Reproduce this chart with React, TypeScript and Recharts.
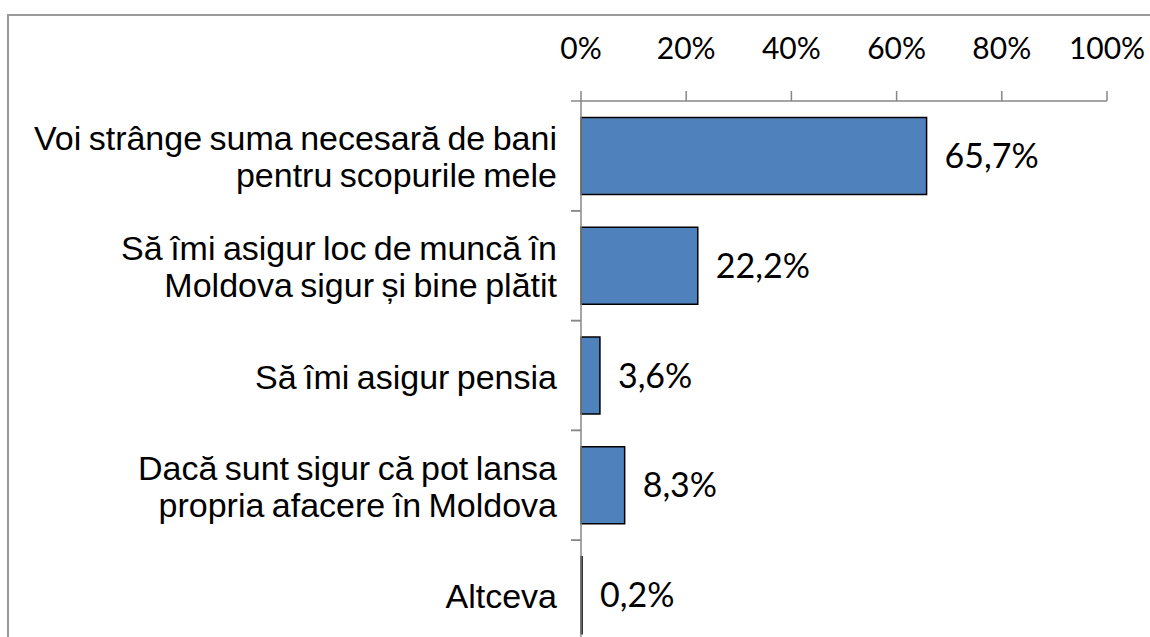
import React from 'react';
import { Bar, BarChart, LabelList, XAxis, YAxis } from 'recharts';

const categories = [
  'Voi strânge suma necesară de bani\npentru scopurile mele',
  'Să îmi asigur loc de muncă în\nMoldova sigur și bine plătit',
  'Să îmi asigur pensia',
  'Dacă sunt sigur că pot lansa\npropria afacere în Moldova',
  'Altceva',
];
const shares = [65.7, 22.2, 3.6, 8.3, 0.2];
const percentTicks = [0, 20, 40, 60, 80, 100];

const data = categories.map((name, i) => ({ name, value: shares[i] }));

const AXIS_GREY = '#878787';
const LABEL_FONT = '"Liberation Sans", Arial, sans-serif';
const NUM_FONT = 'Lato, "Open Sans", sans-serif';

const fmtValue = (v: number) => `${v.toFixed(1).replace('.', ',')}%`;

function PercentTick({ x, y, payload }: any) {
  return (
    <text x={x} y={y} textAnchor="middle" fontFamily={NUM_FONT} fontSize={30} fill="#000">
      {`${payload.value}%`}
    </text>
  );
}

function CategoryTick({ x, y, payload, height }: any) {
  const half = payload.offset ?? height / (2 * categories.length);
  const lines = String(payload.value).split('\n');
  const lh = 37;
  const first = y - ((lines.length - 1) * lh) / 2 + 13;
  return (
    <g>
      <line x1={x - 10} x2={x} y1={y - half} y2={y - half} stroke={AXIS_GREY} strokeWidth={1.5} />
      <line x1={x - 10} x2={x} y1={y + half} y2={y + half} stroke={AXIS_GREY} strokeWidth={1.5} />
      <text textAnchor="end" fontFamily={LABEL_FONT} fontSize={34} fill="#000" wordSpacing={-2}>
        {lines.map((line, i) => (
          <tspan key={i} x={x - 24} y={first + i * lh}>
            {line}
          </tspan>
        ))}
      </text>
    </g>
  );
}

export default function App() {
  return (
    <div
      style={{
        position: 'absolute',
        left: 0,
        top: 0,
        width: 1150,
        height: 637,
        overflow: 'hidden',
        background: '#fff',
      }}
    >
      <div
        style={{
          position: 'absolute',
          left: 7,
          top: 14,
          width: 1300,
          height: 800,
          border: '2px solid #9a9a9a',
          boxSizing: 'border-box',
        }}
      />
      <div style={{ position: 'absolute', left: 0, top: 0 }}>
        <BarChart
          width={1150}
          height={700}
          data={data}
          layout="vertical"
          margin={{ top: 0, right: 43, bottom: 50, left: 0 }}
          barCategoryGap="15%"
        >
          <XAxis
            type="number"
            orientation="top"
            domain={[0, 100]}
            ticks={percentTicks}
            height={101}
            tickSize={10}
            tickMargin={32}
            axisLine={{ stroke: AXIS_GREY, strokeWidth: 1.5 }}
            tickLine={{ stroke: AXIS_GREY, strokeWidth: 1.5 }}
            tick={<PercentTick />}
            interval={0}
          />
          <YAxis
            type="category"
            dataKey="name"
            width={581}
            tickSize={0}
            tickMargin={0}
            tickLine={false}
            axisLine={{ stroke: AXIS_GREY, strokeWidth: 1.5 }}
            tick={<CategoryTick />}
            interval={0}
          />
          <Bar
            dataKey="value"
            fill="#4F81BD"
            stroke="#000"
            strokeWidth={1.5}
            isAnimationActive={false}
          >
            <LabelList
              dataKey="value"
              position="right"
              offset={18}
              formatter={(v: any) => fmtValue(Number(v))}
              fontFamily={NUM_FONT}
              fontSize={34}
              fill="#000"
            />
          </Bar>
        </BarChart>
      </div>
    </div>
  );
}
